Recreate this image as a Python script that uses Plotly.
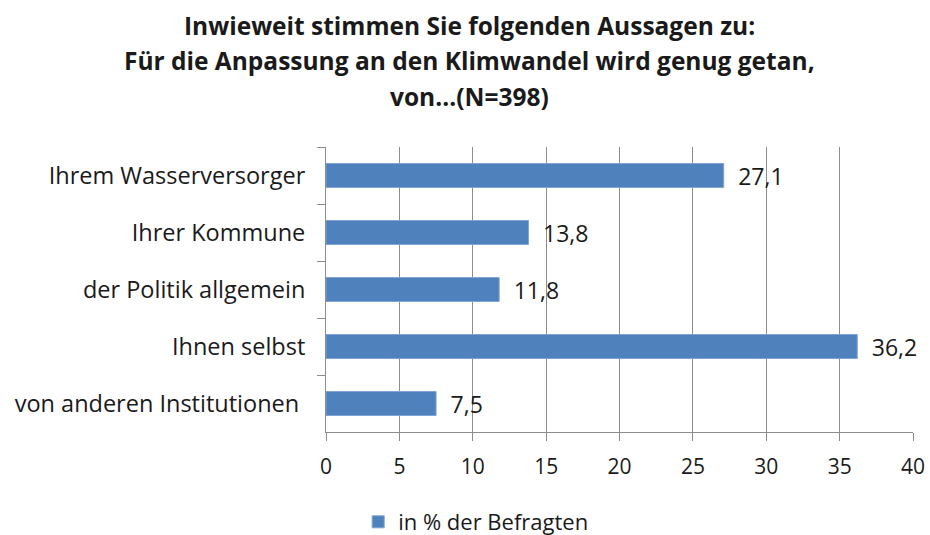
import plotly.graph_objects as go

categories = ["Ihrem Wasserversorger", "Ihrer Kommune", "der Politik allgemein",
              "Ihnen selbst", "von anderen Institutionen\u00a0"]
values = [27.1, 13.8, 11.8, 36.2, 7.5]
series_name = "in % der Befragten"
title_lines = ["Inwieweit stimmen Sie folgenden Aussagen zu:",
               "Für die Anpassung an den Klimwandel wird genug getan,",
               "von...(N=398)"]
x_ticks = [0, 5, 10, 15, 20, 25, 30, 35, 40]

FONT = "'Open Sans', sans-serif"
BLUE = "#4F81BD"
GRID = "#8C8C8C"
TXT = "#1a1a1a"

fig = go.Figure()
fig.add_trace(go.Bar(
    y=categories, x=values, orientation="h", name=series_name,
    marker=dict(color=BLUE, line=dict(color="#7FA3D3", width=1)),
    texttemplate="\u2002%{x:.1f}", textposition="outside", cliponaxis=False,
    constraintext="none",
    textfont=dict(family=FONT, size=23, color=TXT),
    width=0.42, showlegend=True,
))

# title lines, positioned in paper coordinates (plot area 147..432 px)
title_px = [25, 61, 97]
for line, py in zip(title_lines, title_px):
    fig.add_annotation(text="<b>" + line + "</b>", xref="paper", yref="paper",
                       x=0.245, y=(432 - py) / 285, showarrow=False,
                       xanchor="center", yanchor="middle",
                       font=dict(family=FONT, size=24.5, color=TXT))

fig.update_layout(
    width=930, height=535,
    margin=dict(l=326, r=17, t=147, b=103, autoexpand=False),
    paper_bgcolor="white", plot_bgcolor="white",
    separators=", ",
    font=dict(family=FONT, size=20, color=TXT),
    showlegend=True,
    legend=dict(orientation="h", x=0.255, xanchor="center", y=(432 - 522) / 285, yanchor="middle",
                font=dict(family=FONT, size=22, color=TXT),
                itemwidth=30, tracegroupgap=0),
    xaxis=dict(range=[0, 40], tickvals=x_ticks, showgrid=True, gridcolor=GRID, gridwidth=1,
               showline=True, linecolor=GRID, linewidth=1, ticks="outside", ticklen=8,
               tickcolor=GRID, zeroline=False, ticklabelstandoff=8,
               tickfont=dict(family=FONT, size=21, color=TXT)),
    yaxis=dict(autorange="reversed", type="category", showline=True, linecolor=GRID, linewidth=1,
               ticks="outside", ticklen=8, tickcolor=GRID, tickson="boundaries",
               showgrid=False, ticklabelstandoff=15,
               tickfont=dict(family=FONT, size=23.5, color=TXT)),
)

fig.write_html("out.html", config={"displayModeBar": False},
               post_script="document.body.style.margin='0';")
